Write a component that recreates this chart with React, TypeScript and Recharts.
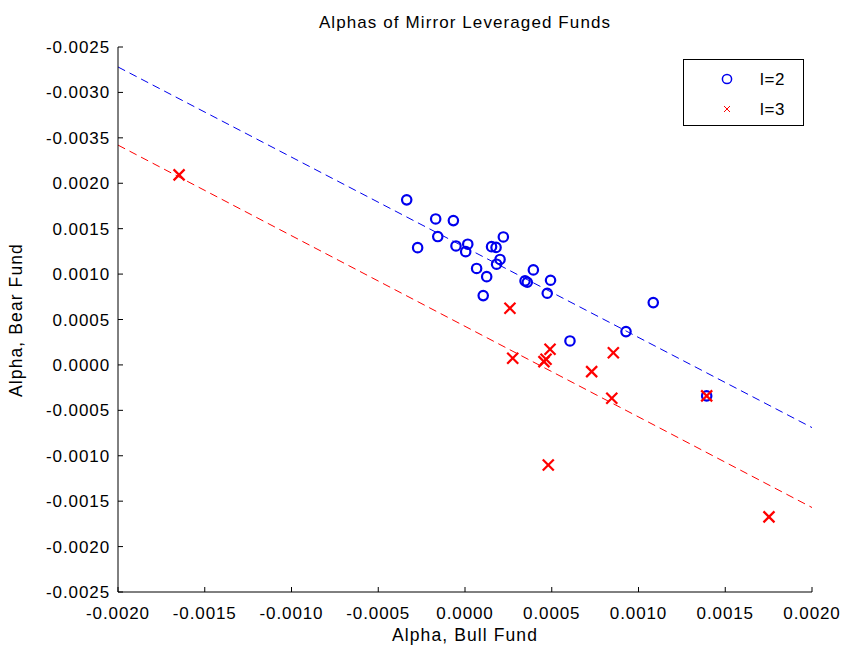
import React from 'react';
import { ScatterChart, Scatter, XAxis, YAxis, ReferenceLine, Legend } from 'recharts';

// l=2 funds: bull alpha (x) and bear alpha (y)
const bullL2 = [-0.000336, -0.000169, -0.000067, -0.000157, -0.000273, -0.000052, 0.000016, 0.000004, 0.000153, 0.000179, 0.000221, 0.000202, 0.000182, 0.000067, 0.000125, 0.000105, 0.000394, 0.000346, 0.000359, 0.000493, 0.000474, 0.000605, 0.000928, 0.001085, 0.001393];
const bearL2 = [0.001817, 0.001607, 0.001589, 0.001413, 0.001291, 0.00131, 0.001329, 0.001247, 0.001302, 0.001294, 0.001409, 0.001161, 0.001109, 0.001062, 0.000972, 0.000763, 0.001046, 0.000925, 0.00091, 0.000932, 0.000789, 0.000264, 0.000367, 0.000686, -0.000341];

// l=3 funds
const bullL3 = [-0.001648, 0.000259, 0.000275, 0.00049, 0.000467, 0.000455, 0.00073, 0.000855, 0.000846, 0.001393, 0.00048, 0.001752];
const bearL3 = [0.002092, 0.000624, 0.000074, 0.000173, 0.000063, 0.000036, -0.000074, 0.000135, -0.000367, -0.000341, -0.001101, -0.001673];

// fitted lines (endpoints)
const fitX = [-0.002, 0.002];
const fitL2 = [0.00328, -0.00069];
const fitL3 = [0.00242, -0.00157];

const seriesNames = ['l=2', 'l=3'];

const xTicks = [-0.002, -0.0015, -0.001, -0.0005, 0, 0.0005, 0.001, 0.0015, 0.002];
const xTickLabels = ['-0.0020', '-0.0015', '-0.0010', '-0.0005', '0.0000', '0.0005', '0.0010', '0.0015', '0.0020'];
const yTicks = [-0.0025, -0.002, -0.0015, -0.001, -0.0005, 0, 0.0005, 0.001, 0.0015, 0.002, 0.0025, 0.003, 0.0035];
const yTickLabels = ['-0.0025', '-0.0020', '-0.0015', '-0.0010', '-0.0005', '0.0000', '0.0005', '0.0010', '0.0015', '0.0020', '-0.0035', '-0.0030', '-0.0025'];

const title = 'Alphas of Mirror Leveraged Funds';
const xLabel = 'Alpha, Bull Fund';
const yLabel = 'Alpha, Bear Fund';

const dataL2 = bullL2.map((x, i) => ({ x, y: bearL2[i] }));
const dataL3 = bullL3.map((x, i) => ({ x, y: bearL3[i] }));

const FONT = '"Liberation Sans", Arial, sans-serif';
const BLUE = '#0000ee';
const RED = '#ff0000';

const labelFor = (ticks: number[], labels: string[]) => (v: number) => {
  const i = ticks.findIndex((t) => Math.abs(t - v) < 1e-9);
  return i >= 0 ? labels[i] : String(v);
};

const CircleMark = (p: any) => (
  <circle cx={p.cx} cy={p.cy} r={4.7} fill="none" stroke={BLUE} strokeWidth={2.2} />
);

const CrossMark = (p: any) => {
  const s = 5.5;
  return (
    <g>
      <line x1={p.cx - s} y1={p.cy - s} x2={p.cx + s} y2={p.cy + s} stroke={RED} strokeWidth={2.2} />
      <line x1={p.cx - s} y1={p.cy + s} x2={p.cx + s} y2={p.cy - s} stroke={RED} strokeWidth={2.2} />
    </g>
  );
};

const LegendBox = () => (
  <div style={{ width: 119, height: 65, border: '1px solid #000', background: '#fff', boxSizing: 'content-box' }}>
    <svg width={119} height={65} style={{ display: 'block' }}>
      <circle cx={43} cy={19} r={4.6} fill="none" stroke={BLUE} strokeWidth={1.5} />
      <text x={76} y={25} fontSize={17} fontFamily={FONT} letterSpacing={0.6} fill="#000">{seriesNames[0]}</text>
      <line x1={40} y1={46} x2={46} y2={52} stroke={RED} strokeWidth={1} />
      <line x1={40} y1={52} x2={46} y2={46} stroke={RED} strokeWidth={1} />
      <text x={76} y={55} fontSize={17} fontFamily={FONT} letterSpacing={0.6} fill="#000">{seriesNames[1]}</text>
    </svg>
  </div>
);

const tickStyle = { fill: '#000', fontSize: 17, fontFamily: FONT, letterSpacing: 0.9 };

export default function App() {
  return (
    <div style={{ position: 'absolute', left: 0, top: 0, width: 846, height: 652, background: '#fff' }}>
      <ScatterChart width={846} height={652} margin={{ top: 47, right: 34, left: 0, bottom: 0 }}>
        <XAxis
          type="number"
          dataKey="x"
          domain={[-0.002, 0.002]}
          ticks={xTicks}
          allowDataOverflow
          tickFormatter={labelFor(xTicks, xTickLabels)}
          height={60}
          tickSize={-5}
          tickMargin={20}
          stroke="#000"
          tick={tickStyle}
          interval={0}
          label={{
            content: () => (
              <g>
                <text x={465} y={641} textAnchor="middle" fontSize={17.5} fontFamily={FONT} letterSpacing={1.1} fill="#000">{xLabel}</text>
                <text x={465} y={28} textAnchor="middle" fontSize={17} fontFamily={FONT} letterSpacing={1.1} fill="#000">{title}</text>
              </g>
            ),
          }}
        />
        <YAxis
          type="number"
          dataKey="y"
          domain={[-0.0025, 0.0035]}
          ticks={yTicks}
          allowDataOverflow
          tickFormatter={labelFor(yTicks, yTickLabels)}
          width={118}
          tickSize={-5}
          tickMargin={13}
          stroke="#000"
          tick={tickStyle}
          interval={0}
          label={{
            content: () => (
              <text x={22} y={320} transform="rotate(-90, 22, 320)" textAnchor="middle" fontSize={17.5} fontFamily={FONT} letterSpacing={1.1} fill="#000">{yLabel}</text>
            ),
          }}
        />
        <ReferenceLine
          segment={[{ x: fitX[0], y: fitL2[0] }, { x: fitX[1], y: fitL2[1] }]}
          stroke={BLUE}
          strokeWidth={1}
          strokeDasharray="8 5"
        />
        <ReferenceLine
          segment={[{ x: fitX[0], y: fitL3[0] }, { x: fitX[1], y: fitL3[1] }]}
          stroke={RED}
          strokeWidth={1}
          strokeDasharray="8 5"
        />
        <Scatter name={seriesNames[0]} data={dataL2} shape={CircleMark} isAnimationActive={false} />
        <Scatter name={seriesNames[1]} data={dataL3} shape={CrossMark} isAnimationActive={false} />
        <Legend
          layout="vertical"
          align="center"
          verticalAlign="middle"
          content={() => <LegendBox />}
          wrapperStyle={{ position: 'absolute', left: 683, top: 59, width: 121, height: 67 }}
        />
      </ScatterChart>
    </div>
  );
}
